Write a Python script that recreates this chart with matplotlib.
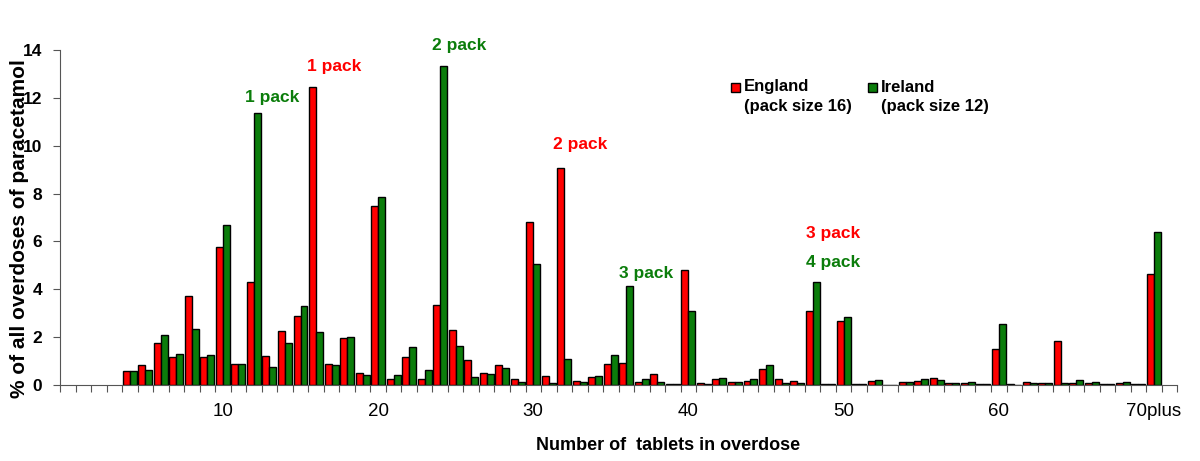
import matplotlib
matplotlib.use("Agg")
import matplotlib.pyplot as plt
from matplotlib.patches import Rectangle
import numpy as np

plt.rcParams["font.family"] = ["Liberation Sans", "DejaVu Sans"]

# number of tablets (first category with data is 4; last is "70plus")
tablets = list(range(4, 70)) + ["70plus"]
england = [0.58, 0.84, 1.77, 1.18, 3.72, 1.18, 5.78, 0.89, 4.29, 1.21,
           2.24, 2.88, 12.45, 0.86, 1.95, 0.49, 7.48, 0.24, 1.18, 0.25,
           3.34, 2.30, 1.04, 0.49, 0.84, 0.25, 6.80, 0.39, 9.08, 0.17,
           0.35, 0.86, 0.92, 0.11, 0.46, 0.04, 4.80, 0.08, 0.24, 0.11,
           0.17, 0.67, 0.26, 0.18, 3.09, 0.04, 2.69, 0.03, 0.15, 0.0,
           0.11, 0.18, 0.31, 0.06, 0.08, 0.04, 1.50, 0.04, 0.13, 0.06,
           1.84, 0.10, 0.07, 0.04, 0.06, 0.05, 4.62]
ireland = [0.58, 0.63, 2.09, 1.28, 2.33, 1.25, 6.67, 0.89, 11.36, 0.77,
           1.74, 3.31, 2.20, 0.84, 2.02, 0.42, 7.85, 0.40, 1.60, 0.63,
           13.32, 1.63, 0.35, 0.46, 0.70, 0.14, 5.04, 0.10, 1.09, 0.11,
           0.39, 1.25, 4.14, 0.24, 0.14, 0.04, 3.09, 0.04, 0.29, 0.13,
           0.25, 0.84, 0.07, 0.07, 4.29, 0.04, 2.83, 0.03, 0.20, 0.0,
           0.14, 0.25, 0.22, 0.07, 0.14, 0.03, 2.56, 0.0, 0.07, 0.07,
           0.10, 0.20, 0.14, 0.04, 0.11, 0.05, 6.39]
tick_labels = ["10", "20", "30", "40", "50", "60", "70plus"]
annotations = [  # text, category, height, series
    ("1 pack", 13.2, 12.0, "ire"),
    ("1 pack", 17.2, 13.3, "eng"),
    ("2 pack", 25.2, 14.2, "ire"),
    ("2 pack", 33.0, 10.05, "eng"),
    ("3 pack", 37.3, 4.65, "ire"),
    ("3 pack", 49.3, 6.35, "eng"),
    ("4 pack", 49.3, 5.1, "ire"),
]
legend_entries = [("England", "(pack size 16)", "eng"),
                  ("Ireland", "(pack size 12)", "ire")]

RED = "#ff0000"
GREEN = "#0b7d0b"
colors = {"eng": RED, "ire": GREEN}

x = np.arange(len(tablets)) + 4
w = 0.45

fig = plt.figure(figsize=(12, 4.61), dpi=100)
ax = fig.add_axes([0.05, 0.165, 0.931, 0.7265])

ax.bar(x - w / 2, england, w, color=RED, edgecolor="black", linewidth=1.0)
ax.bar(x + w / 2, ireland, w, color=GREEN, edgecolor="black", linewidth=1.0)

ax.set_xlim(-0.5, 71.5)
ax.set_ylim(0, 14)
ax.set_yticks(range(0, 15, 2))
ax.set_yticklabels([str(v) for v in range(0, 15, 2)], fontweight="bold",
                   fontsize=12.5)
ax.set_xticks([10, 20, 30, 40, 50, 60, 70])
ax.set_xticklabels(tick_labels, fontsize=13.5)
ax.tick_params(axis="x", length=0, pad=13)
ax.set_xticks(np.arange(-0.5, 72, 1), minor=True)
ax.tick_params(axis="x", which="minor", length=5, width=0.8, color="#555555")
ax.tick_params(axis="y", length=5, width=0.8, color="#555555", pad=8)

for side in ("top", "right"):
    ax.spines[side].set_visible(False)
for side in ("left", "bottom"):
    ax.spines[side].set_color("#555555")
    ax.spines[side].set_linewidth(0.8)

for text, cat, h, s in annotations:
    ax.text(cat, h, text, color=colors[s], fontsize=12.5, fontweight="bold",
            ha="center", va="center")

# legend drawn by hand: square beside first line, second line below
for (name, size, s), x0 in zip(legend_entries, [731, 868]):
    fig.patches.append(Rectangle((x0 / 1200, 1 - 92 / 461), 9 / 1200,
                                 9 / 461, transform=fig.transFigure,
                                 facecolor=colors[s], edgecolor="black",
                                 linewidth=1.0))
    fig.text((x0 + 13) / 1200, 1 - 87 / 461, name, fontsize=12,
             fontweight="bold", va="center")
    fig.text((x0 + 13) / 1200, 1 - 107 / 461, size, fontsize=12,
             fontweight="bold", va="center")

fig.text(0.016, 0.505, "% of all overdoses of paracetamol", rotation=90,
         ha="center", va="center", fontsize=15, fontweight="bold")
fig.text(668 / 1200, 1 - 445 / 461, "Number of  tablets in overdose",
         ha="center", va="center", fontsize=13, fontweight="bold")

fig.savefig("out.png", dpi=100)
